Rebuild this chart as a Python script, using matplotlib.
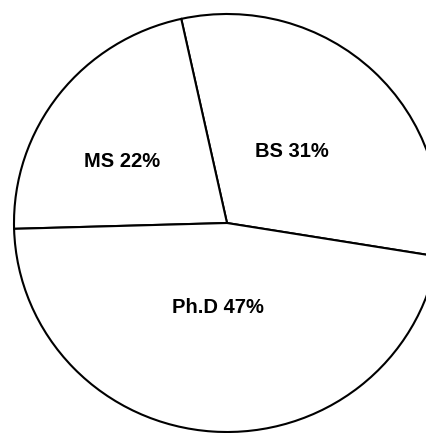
import matplotlib.pyplot as plt

degrees = ['BS', 'MS', 'Ph.D']
shares = [31, 22, 47]

# label spots inside each wedge (axes data units, pie radius = 1)
label_x = [0.305, -0.493, -0.042]
label_y = [0.340, 0.292, -0.402]

fig = plt.figure(figsize=(4.26, 4.33), dpi=100)
# pie centre sits at (227, 223) px, radius ~213 px across and ~209 px tall
ax = fig.add_axes([14 / 426, 1 / 433, 426 / 426, 418 / 433])

ax.pie(shares, startangle=-9.2, counterclock=True, radius=1,
       colors=['white'] * len(shares),
       wedgeprops={'edgecolor': 'black', 'linewidth': 1.5, 'clip_on': False})
ax.set_xlim(-1, 1)
ax.set_ylim(-1, 1)
ax.set_aspect('auto')
ax.axis('off')

for name, pct, x, y in zip(degrees, shares, label_x, label_y):
    ax.text(x, y, f'{name} {pct}%', ha='center', va='center',
            fontsize=14.5, fontweight='bold', family='Liberation Sans')

fig.savefig('out.png', dpi=100)
